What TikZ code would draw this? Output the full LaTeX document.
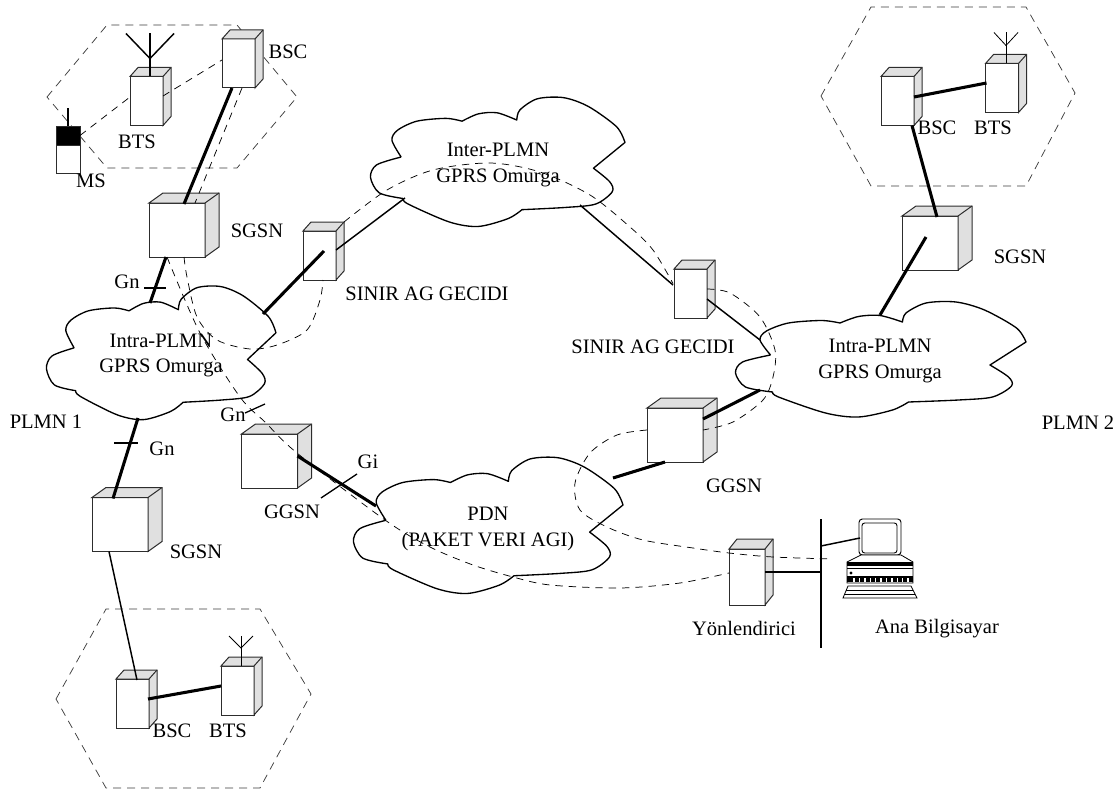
\documentclass[tikz,border=0pt]{standalone}
\usepackage{fontspec}
\setmainfont{Liberation Serif}
\usepackage{xcolor}
\usetikzlibrary{calc}
\definecolor{boxEdge}{RGB}{45,45,45}
\definecolor{boxSide}{RGB}{224,224,224}
\definecolor{cellEdge}{RGB}{60,60,60}
\tikzset{
  labelText/.style={font=\fontsize{15.4}{19}\selectfont, align=center, inner sep=0pt},
  unitNode/.style={draw=boxEdge, fill=white, line width=0.75pt, inner sep=0pt, outer sep=0pt},
  smallBox/.style={unitNode, minimum width=24.75pt, minimum height=36.75pt},
  largeBox/.style={unitNode, minimum width=42pt, minimum height=40.5pt},
  routerBox/.style={unitNode, minimum width=27pt, minimum height=42pt},
  boxFace/.style={draw=boxEdge, fill=boxSide, line width=0.75pt},
  thickLink/.style={line width=2.3pt},
  thinLink/.style={line width=1.1pt},
  tickLine/.style={line width=0.95pt},
  cloudLine/.style={line width=1pt, line join=round},
  cellLine/.style={draw=cellEdge, line width=0.55pt, dash pattern=on 6pt off 4.5pt},
  signalLine/.style={line width=0.55pt, dash pattern=on 5.5pt off 4.5pt}
}
\newcommand{\unitbox}[6]{%
  \node[#1] (#2) at (#3,#4) {};
  \draw[boxFace] (#2.north west) -- ($(#2.north west)+(#5,#6)$) -- ($(#2.north east)+(#5,#6)$) -- ($(#2.south east)+(#5,#6)$) -- (#2.south east) -- (#2.north east) -- cycle;
  \draw[boxFace] (#2.north east) -- ($(#2.north east)+(#5,#6)$);
}
\newcommand{\antenna}[6]{%
  \draw[line width=#6] ($(#1.north)+(#2,0)$) -- ($(#1.north)+(#2,-#3)$);
  \draw[line width=#6] ($(#1.north)+(#2-#4,-#3)$) -- ($(#1.north)+(#2,-#5)$) -- ($(#1.north)+(#2+#4,-#3)$);
}
\newcommand{\cloudshape}[4]{%
  \begin{scope}[shift={(#1,#2)}, xscale=#3, yscale=#4]
    \draw[cloudLine]
      plot[smooth] coordinates {(-110,-4) (-120.5,-19) (-114,-28) (-92,-36) (-59,-38.5) (-40.5,-36)}
      -- plot[smooth] coordinates {(-40.5,-36) (-22,-42.5) (-0.5,-43.5) (22,-37)}
      -- plot[smooth] coordinates {(22,-37) (25.5,-46) (45.5,-56) (75.5,-57) (104,-49) (136,-31) (145.5,-17)}
      -- (109.5,6)
      -- plot[smooth] coordinates {(109.5,6) (128,18) (131,27) (112,38) (78,41) (28,43)}
      -- plot[smooth] coordinates {(28,43) (12,51) (-22,58) (-55,54) (-102,38) (-108,33)}
      -- plot[smooth] coordinates {(-108,33) (-135,28) (-145,14) (-138,3) (-110,-4)};
  \end{scope}
}
\begin{document}
\begin{tikzpicture}[x=0.75pt, y=-0.75pt]
  \useasboundingbox (0,0) rectangle (1117,792);

  \draw[cellLine] (47,97) -- (107,25) -- (237,25) -- (297,97) -- (237,168) -- (107,168) -- cycle;
  \draw[cellLine] (56,699) -- (106,609) -- (260,609) -- (311,694) -- (260,788) -- (106,788) -- cycle;
  \draw[cellLine] (821,96) -- (871,7) -- (1026,7) -- (1075,93) -- (1026,186) -- (871,186) -- cycle;

  \cloudshape{161}{352.5}{0.79}{1.157}
  \cloudshape{497.5}{161.5}{0.876}{1.12}
  \cloudshape{880.5}{359}{1}{1}
  \cloudshape{488}{525}{0.928}{1.18}

  \unitbox{smallBox}{bscA}{238.5}{63.5}{8}{-9}
  \unitbox{smallBox}{btsA}{146.5}{101}{8}{-9}
  \unitbox{largeBox}{sgsnA}{177}{230}{14}{-10}
  \unitbox{smallBox}{sinirA}{319.5}{255.5}{8}{-9}
  \unitbox{largeBox}{ggsnA}{269.5}{461}{14}{-10}
  \unitbox{largeBox}{sgsnB}{120}{524.5}{14}{-10}
  \unitbox{smallBox}{bscB}{132.5}{703.5}{8}{-9}
  \unitbox{smallBox}{btsB}{237.5}{690.5}{8}{-9}
  \unitbox{smallBox}{bscC}{897.5}{101}{8}{-9}
  \unitbox{smallBox}{btsC}{1002}{88}{8}{-9}
  \unitbox{largeBox}{sgsnC}{930}{243}{14}{-10}
  \unitbox{smallBox}{sinirC}{690.5}{293.5}{8}{-9}
  \unitbox{largeBox}{ggsnC}{675}{435}{14}{-10}
  \unitbox{routerBox}{routerA}{747}{577}{8}{-10}

  \node[draw=boxEdge, fill=white, line width=0.75pt, minimum width=18pt, minimum height=21pt, inner sep=0pt, outer sep=0pt] (msBody) at (68,159) {};
  \node[draw=boxEdge, fill=black, minimum width=18pt, minimum height=14.25pt, inner sep=0pt, outer sep=0pt] (msHead) at (68,135.5) {};
  \draw[line width=1.3pt] (msHead.north) -- ++(0,-18);

  \antenna{btsA}{3.5}{43}{24}{18}{1.1pt}
  \antenna{btsB}{3.5}{30}{12}{18}{0.6pt}
  \antenna{btsC}{4}{31}{12}{18}{0.6pt}

  \node[labelText] (intraA) at (161,355.5) {Intra-PLMN\\GPRS Omurga};
  \node[labelText] (interA) at (498,165) {Inter-PLMN\\GPRS Omurga};
  \node[labelText] (intraC) at (880,361) {Intra-PLMN\\GPRS Omurga};
  \node[labelText] (pdnA) at (488,529) {PDN\\(PAKET VERI AGI)};

  \draw[thickLink] ($(bscA.south)+(-6.5,0)$) -- ($(sgsnA.north)+(7,1)$);
  \draw[thickLink] ($(sgsnA.south)+(-11,0)$) -- ($(intraA)+(-11,-52.5)$);
  \draw[thickLink] ($(sinirA)+(4.5,-4.5)$) -- ($(intraA)+(102,-41.5)$);
  \draw[thickLink] ($(intraA)+(-23,62.5)$) -- ($(sgsnB.north)+(-7,1)$);
  \draw[thinLink] ($(sgsnB.south)+(-11,0)$) -- ($(bscB.north)+(4.5,1)$);
  \draw[thickLink] ($(bscB.east)+(-1,-4.5)$) -- ($(btsB.west)+(0,-4.5)$);
  \draw[thickLink] ($(ggsnA.east)+(0,-5)$) -- ($(pdnA)+(-112,-23)$);
  \draw[thinLink] ($(sinirA.east)+(0,-5.5)$) -- ($(interA)+(-93,33)$);
  \draw[thinLink] ($(interA)+(82,40)$) -- ($(sinirC.west)+(-1,-8.5)$);
  \draw[thinLink] ($(sinirC.east)+(0,5.5)$) -- ($(intraC)+(-120,-21)$);
  \draw[thickLink] ($(ggsnC.east)+(0,-16)$) -- ($(intraC)+(-120,29)$);
  \draw[thickLink] ($(ggsnC.south)+(-10,0)$) -- ($(pdnA)+(125,-51)$);
  \draw[thickLink] ($(sgsnC)+(-4,-6)$) -- ($(intraC)+(0,-46)$);
  \draw[thickLink] ($(bscC.south)+(14.5,0)$) -- ($(sgsnC.north)+(7,1)$);
  \draw[thickLink] ($(bscC.east)+(0,-4)$) -- ($(btsC.west)+(1,-5)$);

  \draw[tickLine] (155,288) +(-11,0) -- +(11,0);
  \draw[tickLine] (126,443) +(-12,0) -- +(12,0);
  \draw[tickLine] (255,408.5) +(-10,4.5) -- +(10,-4.5);
  \draw[tickLine] (339,486) +(-18,12) -- +(18,-12);

  \draw[signalLine] (msHead.east) -- ($(btsA.west)+(0,-4)$);
  \draw[signalLine] ($(btsA.east)+(0,-5)$) -- ($(bscA.west)+(0,-3.5)$);
  \draw[signalLine] ($(bscA.south)+(3.5,0)$) -- ($(sgsnA.north)+(18,0)$);
  \draw[signalLine] plot[smooth] coordinates {($(sgsnA.south)+(7,0)$) (187,277) (197,317) (217,340) (250,349) (277,345) (307,330) (320,300) ($(sinirA.south)+(3.5,0)$)};
  \draw[signalLine] plot[smooth] coordinates {($(sgsnA.south)+(-10,0)$) (200,333) (240,397) (265,422) (297,453) (385,520) (430,547) (473,565) (513,577) (550,585) (620,588) (680,583) ($(routerA.west)+(0,-4)$)};
  \draw[signalLine] plot[smooth] coordinates {($(sinirA.north east)+(8,-9)$) (387,190) (433,170) (490,163) (540,172) (590,195) (630,227) (653,250) ($(sinirC.west)+(-1,-10)$)};
  \draw[signalLine] plot[smooth] coordinates {($(sinirC.east)+(0,-4.5)$) (730,293) (760,317) (775,350) (773,377) (763,400) (733,422) ($(ggsnC.east)+(0,-5)$)};
  \draw[signalLine] plot[smooth] coordinates {($(ggsnC.west)+(0,-5)$) (617,435) (590,453) (575,483) (580,510) (607,527) (643,540) (693,548) (729,553) (773,557) (833,559)};

  \coordinate (busTop) at (821,519);
  \coordinate (busBot) at (821,648);
  \draw[line width=0.9pt] (busTop) -- (busBot);
  \draw[thinLink] ($(routerA.east)+(0,-5)$) -- ($(busTop)+(0,53)$);

  \node[draw=black, fill=white, line width=0.7pt, rounded corners=2.5pt, minimum width=31.5pt, minimum height=27pt, inner sep=0pt, outer sep=0pt] (hostPc) at (880,537) {};
  \draw[line width=0.7pt, rounded corners=2pt] (862,523) rectangle (897,553);
  \draw[thinLink] ($(busTop)+(0,27)$) -- ($(hostPc.west)+(1,1)$);
  \draw[line width=0.6pt, fill=white] (847,562) -- (861,555) -- (901,555) -- (913,562) -- (913,583) -- (847,583) -- cycle;
  \fill (847,562) rectangle (913,566);
  \draw[line width=0.5pt] (847,568) -- (913,568);
  \fill (851,573) circle (1.6);
  \fill (847,576) rectangle (913,582);
  \foreach \k in {1,...,11}
    \fill[white] (848+\k*5.4,578) rectangle ++(1.3,4);
  \draw[line width=0.6pt] (848,586) -- (911,586) -- (917,598) -- (843,598) -- cycle;
  \draw[line width=0.5pt] (846,590) -- (913,590);
  \draw[line width=0.5pt] (845,594) -- (915,594);

  \node[labelText] (bscAText) at (288,52) {BSC};
  \node[labelText] (btsAText) at (137,142) {BTS};
  \node[labelText] (msText) at (91,181) {MS};
  \node[labelText] (sgsnAText) at (257,231) {SGSN};
  \node[labelText] (gnAText) at (127,282) {Gn};
  \node[labelText] (sinirAText) at (427,294) {SINIR AG GECIDI};
  \node[labelText] (sinirCText) at (653,347) {SINIR AG GECIDI};
  \node[labelText] (plmnAText) at (46,422) {PLMN 1};
  \node[labelText] (plmnCText) at (1078,423) {PLMN 2};
  \node[labelText] (gnBText) at (162,449) {Gn};
  \node[labelText] (gnCText) at (233,415) {Gn};
  \node[labelText] (ggsnAText) at (292,512) {GGSN};
  \node[labelText] (giText) at (368,462) {Gi};
  \node[labelText] (sgsnBText) at (196,552) {SGSN};
  \node[labelText] (bscBText) at (172,731) {BSC};
  \node[labelText] (btsBText) at (228,731) {BTS};
  \node[labelText] (bscCText) at (937,128) {BSC};
  \node[labelText] (btsCText) at (993,128) {BTS};
  \node[labelText] (sgsnCText) at (1020,257) {SGSN};
  \node[labelText] (ggsnCText) at (734,486) {GGSN};
  \node[labelText] (routerText) at (744,628) {Yönlendirici};
  \node[labelText] (hostText) at (937,629) {Ana Bilgisayar};
\end{tikzpicture}
\end{document}
